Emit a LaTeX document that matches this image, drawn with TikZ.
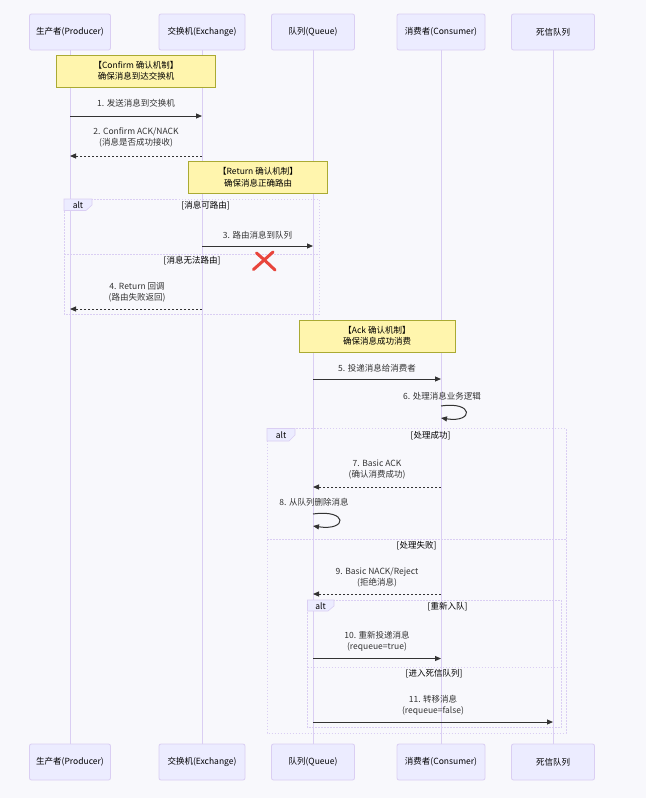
\documentclass[tikz,border=0pt]{standalone}
\usepackage{fontspec}
\setmainfont{Noto Sans CJK SC}
\usetikzlibrary{arrows.meta,calc}
\definecolor{bgc}{HTML}{F8F8FC}
\definecolor{actfill}{HTML}{ECECFF}
\definecolor{actline}{HTML}{DACEF3}
\definecolor{notefill}{HTML}{FFF5AD}
\definecolor{noteline}{HTML}{AAAA33}
\definecolor{txt}{HTML}{333333}
\definecolor{redx}{HTML}{E8453C}
\tikzset{
  actor/.style={draw=actline, fill=actfill, rounded corners=2pt, minimum height=36pt, inner sep=0pt, font=\fontsize{8.5}{10}\selectfont, text=black, line width=0.8pt},
  life/.style={draw=actline, line width=0.8pt},
  note/.style={draw=noteline, fill=notefill, line width=0.6pt, inner sep=0pt, align=center, minimum height=32pt, font=\fontsize{8.5}{11.5}\selectfont, text=black},
  msg/.style={draw=txt, line width=1pt, -{Triangle[length=6pt,width=5pt]}},
  reply/.style={msg, dash pattern=on 2pt off 2pt},
  lbl/.style={font=\fontsize{8.5}{11}\selectfont, text=txt, align=center, inner sep=0pt},
  altbox/.style={draw=actline, line width=0.8pt, dash pattern=on 1.5pt off 1.5pt},
  alttag/.style={fill=actfill, draw=actline, line width=0.6pt},
  tagtxt/.style={font=\fontsize{8.5}{10}\selectfont, text=black, inner sep=0pt},
  sect/.style={font=\fontsize{8.5}{10}\selectfont, text=black, inner sep=0pt},
  crossx/.style={draw=redx, line width=3pt, line cap=round}
}
\begin{document}
\begin{tikzpicture}[x=1pt,y=-1pt]
\fill[bgc] (0,0) rectangle (646,798);
\useasboundingbox (0,0) rectangle (646,798);
% actors
\node[actor, minimum width=81pt] (pT) at (70,32) {生产者(Producer)};
\node[actor, minimum width=86pt] (eT) at (202,32) {交换机(Exchange)};
\node[actor, minimum width=83pt] (qT) at (313,32) {队列(Queue)};
\node[actor, minimum width=88pt] (cT) at (441,32) {消费者(Consumer)};
\node[actor, minimum width=83pt] (dT) at (553,32) {死信队列};
\node[actor, minimum width=81pt] (pB) at (70,762) {生产者(Producer)};
\node[actor, minimum width=86pt] (eB) at (202,762) {交换机(Exchange)};
\node[actor, minimum width=83pt] (qB) at (313,762) {队列(Queue)};
\node[actor, minimum width=88pt] (cB) at (441,762) {消费者(Consumer)};
\node[actor, minimum width=83pt] (dB) at (553,762) {死信队列};
\draw[life] (pT.south) -- (pB.north);
\draw[life] (eT.south) -- (eB.north);
\draw[life] (qT.south) -- (qB.north);
\draw[life] (cT.south) -- (cB.north);
\draw[life] (dT.south) -- (dB.north);
% alt boxes
\draw[altbox] (64,199) rectangle (319,314);
\draw[altbox] (64,254) -- (319,254);
\draw[alttag] (64,199) -- (92,199) -- (92,205) -- (86,210.5) -- (64,210.5) -- cycle;
\node[tagtxt] (a1t) at (78,205) {alt};
\node[sect] (a1s1) at (205.5,205.5) {[消息可路由]};
\node[sect] (a1s2) at (192,260.5) {[消息无法路由]};

\draw[altbox] (267,428.5) rectangle (566,733);
\draw[altbox] (267,539) -- (566,539);
\draw[alttag] (267,428.5) -- (295,428.5) -- (295,435) -- (289,441) -- (267,441) -- cycle;
\node[tagtxt] (a2t) at (281,435) {alt};
\node[sect] (a2s1) at (430.5,435.5) {[处理成功]};
\node[sect] (a2s2) at (416.5,545.5) {[处理失败]};

\draw[altbox] (307.5,600) rectangle (561,727.5);
\draw[altbox] (307.5,667) -- (561,667);
\draw[alttag] (307.5,600) -- (334,600) -- (334,606) -- (328,611) -- (307.5,611) -- cycle;
\node[tagtxt] (a3t) at (320.5,606) {alt};
\node[sect] (a3s1) at (447.5,606.5) {[重新入队]};
\node[sect] (a3s2) at (434,673.5) {[进入死信队列]};
% notes
\node[note, minimum width=159pt] (n1) at (136,71) {【Confirm 确认机制】\\确保消息到达交换机};
\node[note, minimum width=139pt] (n2) at (258,177) {【Return 确认机制】\\确保消息正确路由};
\node[note, minimum width=156pt] (n3) at (377,336) {【Ack 确认机制】\\确保消息成功消费};
% message endpoints
\coordinate (m1a) at (pT |- 0,116); \coordinate (m1b) at (eT |- 0,116);
\coordinate (m2a) at (eT |- 0,156); \coordinate (m2b) at (pT |- 0,156);
\coordinate (m3a) at (eT |- 0,246); \coordinate (m3b) at (qT |- 0,246);
\coordinate (m4a) at (eT |- 0,309); \coordinate (m4b) at (pT |- 0,309);
\coordinate (m5a) at (qT |- 0,379); \coordinate (m5b) at (cT |- 0,379);
\coordinate (m6a) at (cT |- 0,406); \coordinate (m6b) at (cT |- 0,418);
\coordinate (m7a) at (cT |- 0,487); \coordinate (m7b) at (qT |- 0,487);
\coordinate (m8a) at (qT |- 0,514); \coordinate (m8b) at (qT |- 0,526);
\coordinate (m9a) at (cT |- 0,594); \coordinate (m9b) at (qT |- 0,594);
\coordinate (m10a) at (qT |- 0,658.5); \coordinate (m10b) at (cT |- 0,658.5);
\coordinate (m11a) at (qT |- 0,722); \coordinate (m11b) at (dT |- 0,722);
% messages
\draw[msg] (m1a) -- (m1b);
\node[lbl] (l1) at (136,103.5) {1. 发送消息到交换机};
\draw[reply] (m2a) -- (m2b);
\node[lbl] (l2) at (136,137) {2. Confirm ACK/NACK\\(消息是否成功接收)};
\draw[msg] (m3a) -- (m3b);
\node[lbl] (l3) at (257.5,235.5) {3. 路由消息到队列};
\draw[reply] (m4a) -- (m4b);
\node[lbl] (l4) at (137,292.5) {4. Return 回调\\(路由失败返回)};
\draw[msg] (m5a) -- (m5b);
\node[lbl] (l5) at (377,368.5) {5. 投递消息给消费者};
\draw[msg] (m6a) .. controls ($(m6a)+(33,-5)$) and ($(m6b)+(33,5)$) .. (m6b);
\node[lbl] (l6) at (442,396) {6. 处理消息业务逻辑};
\draw[reply] (m7a) -- (m7b);
\node[lbl] (l7) at (377,470) {7. Basic ACK\\(确认消费成功)};
\draw[msg] (m8a) .. controls ($(m8a)+(35,-5)$) and ($(m8b)+(35,5)$) .. (m8b);
\node[lbl] (l8) at (314,502.5) {8. 从队列删除消息};
\draw[reply] (m9a) -- (m9b);
\node[lbl] (l9) at (377,577.5) {9. Basic NACK/Reject\\(拒绝消息)};
\draw[msg] (m10a) -- (m10b);
\node[lbl] (l10) at (377,641) {10. 重新投递消息\\(requeue=true)};
\draw[msg] (m11a) -- (m11b);
\node[lbl] (l11) at (433,705.5) {11. 转移消息\\(requeue=false)};
% red cross
\draw[crossx] (256.5,253) .. controls (265,260.5) .. (275,270);
\draw[crossx] (273,252) .. controls (262.5,261.5) .. (253.5,269.5);
\end{tikzpicture}
\end{document}
